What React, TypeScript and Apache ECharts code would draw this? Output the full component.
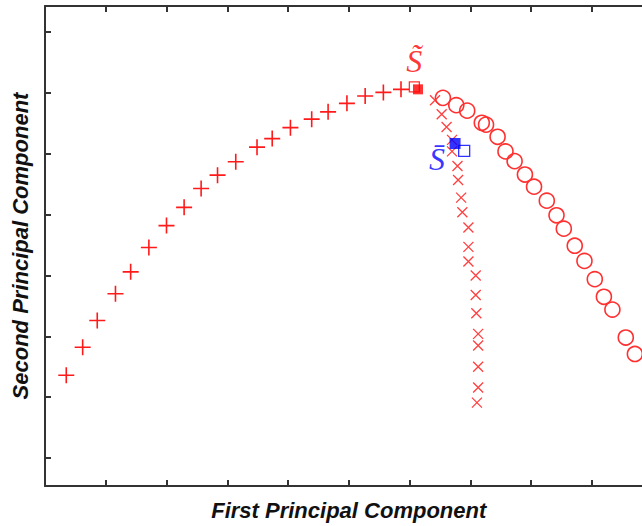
import React, { useEffect, useRef } from "react";
import * as echarts from "echarts";

// Values (arbitrary PCA units; x ticks every 1, y ticks 1..8)
const plusPoints: [number, number][] = [
  [0.35, 2.36], [0.62, 2.82], [0.86, 3.26], [1.16, 3.7], [1.41, 4.06],
  [1.71, 4.46], [2.0, 4.82], [2.29, 5.12], [2.57, 5.43], [2.84, 5.65],
  [3.14, 5.87], [3.49, 6.11], [3.74, 6.25], [4.04, 6.43], [4.39, 6.57],
  [4.66, 6.69], [4.97, 6.83], [5.27, 6.95], [5.57, 7.01], [5.86, 7.06],
];
const crossPoints: [number, number][] = [
  [6.42, 6.88], [6.53, 6.65], [6.61, 6.44], [6.7, 6.23], [6.7, 6.04],
  [6.79, 5.8], [6.8, 5.57], [6.85, 5.28], [6.87, 5.04], [6.97, 4.79],
  [6.97, 4.47], [6.97, 4.23], [7.09, 4.0], [7.09, 3.68], [7.1, 3.38],
  [7.13, 3.04], [7.13, 2.85], [7.13, 2.5], [7.13, 2.16], [7.11, 1.91],
];
const circlePoints: [number, number][] = [
  [6.55, 6.92], [6.77, 6.8], [6.95, 6.71], [7.19, 6.51], [7.26, 6.48],
  [7.45, 6.28], [7.58, 6.04], [7.73, 5.88], [7.9, 5.66], [8.05, 5.46],
  [8.26, 5.23], [8.42, 4.99], [8.54, 4.77], [8.72, 4.49], [8.88, 4.24],
  [9.05, 3.94], [9.2, 3.65], [9.34, 3.44], [9.56, 2.98], [9.71, 2.71],
];
const redOpenSquare: [number, number][] = [[6.08, 7.1]];
const redFilledSquare: [number, number][] = [[6.14, 7.06]];
const blueFilledSquare: [number, number][] = [[6.75, 6.17]];
const blueOpenSquare: [number, number][] = [[6.9, 6.05]];
const yTickValues = [1, 2, 3, 4, 5, 6, 7, 8];
const xRange = [0, 10];
const yRange = [0.54, 8.43];
const xName = "First Principal Component";
const yName = "Second Principal Component";
const redLabel = "S\u0303";
const blueLabel = "S\u0304";

export default function App() {
  const ref = useRef<HTMLDivElement>(null);
  useEffect(() => {
    if (!ref.current) return;
    const chart = echarts.init(ref.current, null, { renderer: "svg" });
    const axisLine = { show: true, lineStyle: { color: "#333", width: 2 } };
    const nameStyle = {
      fontFamily: "Liberation Sans, Arial, sans-serif",
      fontWeight: "bold" as const,
      fontStyle: "italic" as const,
      fontSize: 22,
      color: "#111",
    };
    const labelFont = {
      fontFamily: "Liberation Serif, DejaVu Serif, serif",
      fontStyle: "italic" as const,
      fontSize: 32,
    };
    chart.setOption({
      animation: false,
      backgroundColor: "#fff",
      grid: { left: 45, top: 6, width: 607.5, height: 480, outerBoundsMode: "none", containLabel: false },
      xAxis: [
        {
          type: "value", min: xRange[0], max: xRange[1], interval: 1, position: "bottom",
          axisLine, axisTick: { show: true, inside: true, length: 6, lineStyle: { color: "#333", width: 2 } },
          axisLabel: { show: false }, splitLine: { show: false },
          name: xName, nameLocation: "middle", nameGap: 13, nameTextStyle: { ...nameStyle, verticalAlign: "top" },
        },
        {
          type: "value", min: xRange[0], max: xRange[1], interval: 1, position: "top",
          axisLine, axisTick: { show: true, inside: true, length: 6, lineStyle: { color: "#333", width: 2 } },
          axisLabel: { show: false }, splitLine: { show: false },
        },
      ],
      yAxis: {
        type: "value", min: yRange[0], max: yRange[1],
        axisLine,
        axisTick: { show: true, inside: true, length: 6, customValues: yTickValues, lineStyle: { color: "#333", width: 2 } },
        axisLabel: { show: false, customValues: yTickValues }, splitLine: { show: false },
        name: yName, nameLocation: "middle", nameGap: 14, nameRotate: 90,
        nameTextStyle: { ...nameStyle, verticalAlign: "bottom" },
      },
      series: [
        {
          type: "scatter", data: plusPoints, symbol: "path://M0,8L16,8M8,0L8,16", symbolSize: 16,
          itemStyle: { color: "rgba(0,0,0,0)", borderColor: "#ff1a1a", borderWidth: 1.6, opacity: 1 },
          silent: true,
        },
        {
          type: "scatter", data: crossPoints, symbol: "path://M0,0L10,10M10,0L0,10", symbolSize: 10,
          itemStyle: { color: "rgba(0,0,0,0)", borderColor: "#ff4040", borderWidth: 1.3, opacity: 1 },
          silent: true,
        },
        {
          type: "scatter", data: circlePoints, symbol: "circle", symbolSize: 15,
          itemStyle: { color: "rgba(0,0,0,0)", borderColor: "#ff3030", borderWidth: 1.6, opacity: 1 },
          silent: true,
        },
        {
          type: "scatter", data: redOpenSquare, symbol: "rect", symbolSize: 10,
          itemStyle: { color: "#fff", borderColor: "#ff0000", borderWidth: 1.3 },
          label: { show: true, formatter: redLabel, position: "inside", offset: [0, -26], color: "#ff0000", ...labelFont },
          silent: true,
        },
        {
          type: "scatter", data: redFilledSquare, symbol: "rect", symbolSize: 10,
          itemStyle: { color: "#ff0000" }, silent: true,
        },
        {
          type: "scatter", data: blueOpenSquare, symbol: "rect", symbolSize: 11,
          itemStyle: { color: "#fff", borderColor: "#0000ff", borderWidth: 1.3 }, silent: true,
        },
        {
          type: "scatter", data: blueFilledSquare, symbol: "rect", symbolSize: 11,
          itemStyle: { color: "#0000ff" },
          label: { show: true, formatter: blueLabel, position: "inside", offset: [-18, 16], color: "#0000ff", ...labelFont },
          silent: true,
        },
      ],
    });
    return () => chart.dispose();
  }, []);
  return <div ref={ref} style={{ position: "absolute", left: 0, top: 0, width: 642, height: 526 }} />;
}
